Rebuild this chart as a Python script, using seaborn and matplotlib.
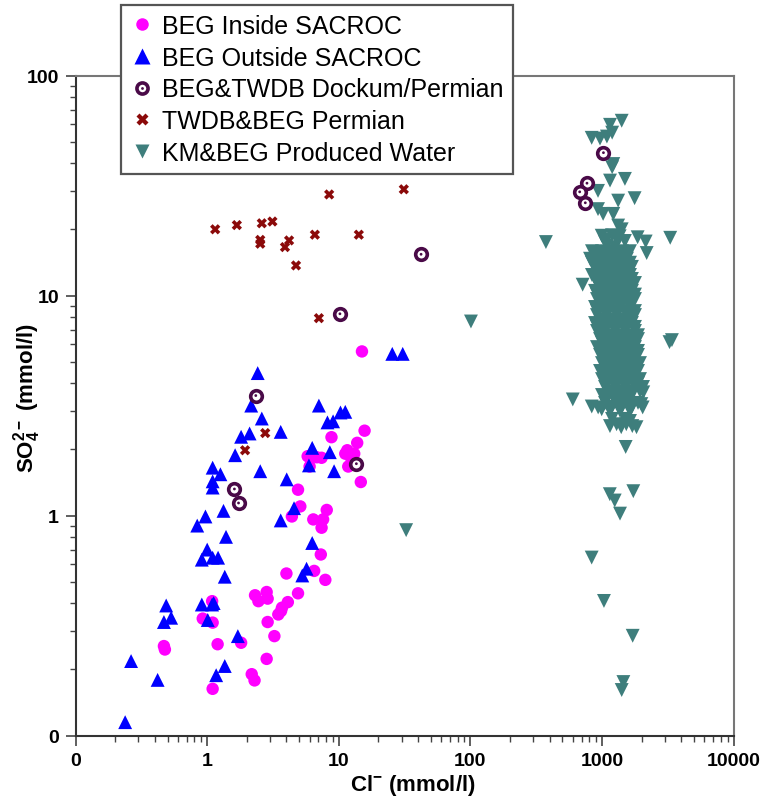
import matplotlib
matplotlib.use("Agg")
import matplotlib.pyplot as plt
import seaborn as sns
import pandas as pd
from matplotlib.lines import Line2D
from matplotlib.legend_handler import HandlerTuple
from matplotlib.ticker import LogLocator, NullFormatter

# ---------------- data (Cl- , SO4 2- in mmol/l) ----------------
inside_cl = [15.0, 15.7, 8.8, 13.8, 11.6, 11.2, 13.1, 5.8, 7.4, 6.8, 6.0, 11.8, 14.7, 4.9,
             5.1, 4.4, 8.1, 6.4, 7.6, 7.4, 7.3, 4.0, 6.5, 7.9, 4.9, 2.83, 2.31, 2.45, 2.88,
             4.1, 3.7, 3.47, 3.64, 2.88, 3.24, 2.83, 2.18, 2.29, 0.925, 1.10, 1.09, 1.20,
             1.81, 1.10, 0.469, 0.477, 12.5]
inside_so4 = [5.57, 2.43, 2.27, 2.14, 1.98, 1.91, 1.91, 1.86, 1.83, 1.84, 1.67, 1.67, 1.42, 1.31,
              1.10, 0.99, 1.06, 0.96, 0.96, 0.88, 0.665, 0.545, 0.56, 0.51, 0.443, 0.449, 0.434,
              0.408, 0.419, 0.404, 0.381, 0.355, 0.368, 0.328, 0.283, 0.223, 0.19, 0.178, 0.34,
              0.326, 0.408, 0.26, 0.264, 0.163, 0.255, 0.246, 1.80]

outside_cl = [25.5, 30.6, 2.42, 2.16, 2.60, 1.81, 2.10, 3.62, 1.63, 1.10, 1.26, 1.10, 1.10, 2.53,
              7.06, 8.2, 9.05, 10.3, 11.2, 6.28, 8.55, 5.93, 9.21, 4.02, 4.57, 3.62, 6.28, 5.69,
              5.28, 0.97, 0.84, 1.39, 1.33, 1.0, 0.91, 1.10, 1.21, 1.36, 0.91, 1.09, 1.12, 1.01,
              0.488, 0.469, 0.532, 1.71, 1.36, 1.17, 0.264, 0.42, 0.238]
outside_so4 = [5.43, 5.43, 4.44, 3.16, 2.76, 2.28, 2.36, 2.40, 1.88, 1.65, 1.54, 1.43, 1.34, 1.59,
               3.16, 2.65, 2.68, 2.94, 2.96, 2.03, 1.94, 1.69, 1.59, 1.46, 1.08, 0.95, 0.75, 0.573,
               0.534, 0.99, 0.90, 0.80, 1.05, 0.70, 0.63, 0.643, 0.643, 0.527, 0.394, 0.394, 0.40,
               0.335, 0.39, 0.328, 0.343, 0.283, 0.207, 0.188, 0.218, 0.179, 0.115]

dockum_cl = [10.2, 2.34, 1.61, 1.73, 13.6, 42.2, 1026, 769, 677, 747]
dockum_so4 = [8.26, 3.51, 1.32, 1.14, 1.72, 15.4, 44.6, 32.4, 29.6, 26.4]

permian_cl = [1.15, 1.68, 2.60, 3.13, 2.53, 2.53, 4.19, 3.90, 6.58, 14.2, 8.45, 31.2, 4.73,
              7.06, 2.76, 1.94]
permian_so4 = [20.0, 20.9, 21.3, 21.7, 17.9, 17.2, 17.8, 16.6, 18.9, 18.9, 28.8, 30.4, 13.7,
               7.89, 2.37, 1.98]

# produced water: scattered points
pw_cl = [101, 32.5, 600, 713, 375, 3300, 1866, 2149, 2186, 3400, 3260, 1514, 1147, 1250, 1730,
         1371, 835, 1035, 1711, 1454, 1412,
         1412, 1151, 1195, 1090, 835, 966, 1219, 1195, 1151, 1494, 933, 1327, 1770, 933, 1020,
         1219, 1327, 1412, 995, 1055, 1363, 1494, 1054, 1191, 1300, 1091, 1256,
         836, 935, 995, 2060, 2038, 1990, 1291, 1530, 1150, 1400, 1700, 1830, 1633]
pw_so4 = [7.62, 0.858, 3.37, 11.2, 17.5, 18.3, 18.4, 17.6, 15.6, 6.27, 6.14, 2.05, 1.25, 1.17,
          1.29, 1.02, 0.644, 0.409, 0.284, 0.175, 0.161,
          62.3, 59.7, 55.0, 52.8, 52.1, 51.7, 39.6, 38.3, 33.3, 33.9, 29.9, 27.0, 27.7, 24.7, 23.5,
          23.5, 20.8, 20.0, 18.7, 17.5, 18.6, 17.7, 18.0, 18.8, 17.9, 16.9, 16.6,
          3.13, 3.10, 3.04, 3.63, 3.10, 3.21, 2.60, 2.60, 2.55, 2.52, 2.55, 2.52, 2.69]

# produced water: dense column around 1000-2000 mmol/l Cl-
pw_core_cl = [839, 1000, 1191, 1419, 1633,
              811, 916, 1091, 1300, 1549,
              885, 1054, 1256, 1496, 1690,
              839, 966, 1151, 1371, 1633,
              916, 1091, 1300, 1549, 1782,
              885, 1000, 1191, 1419, 1690,
              916, 1054, 1256, 1496, 1782,
              885, 1000, 1151, 1371, 1633,
              916, 1091, 1300, 1549, 1782,
              885, 1000, 1191, 1419, 1690,
              916, 1054, 1256, 1496, 1782,
              966, 1091, 1300, 1549, 1879,
              916, 1054, 1256, 1496, 1782,
              966, 1151, 1371, 1633, 1879,
              1000, 1191, 1419, 1690, 1945,
              966, 1151, 1371, 1633, 1879,
              1000, 1191, 1419, 1690, 1945,
              1054, 1256, 1496, 1782, 2051,
              1000, 1191, 1419, 1690,
              1054, 1300, 1549, 1879,
              1151, 1371, 1633,
              1191, 1496,
              885, 1091, 1300, 1549,
              839, 966, 1151, 1371, 1633,
              916, 1091, 1300, 1549,
              885, 1000, 1191, 1419, 1690,
              966, 1151, 1371, 1633,
              916, 1091, 1300, 1549, 1782,
              966, 1151, 1371, 1633,
              916, 1054, 1256, 1496, 1782,
              966, 1151, 1371, 1633,
              916, 1091, 1300, 1549, 1782,
              966, 1151, 1371, 1633, 1879,
              1000, 1191, 1419, 1690,
              966, 1151, 1371, 1633, 1879,
              1054, 1256, 1496, 1782,
              1054, 1256, 1496, 1782,
              1054, 1256, 1496, 1782,
              1091, 1300, 1549, 1879,
              1151, 1371, 1633, 1945,
              1091, 1300, 1549,
              1191, 1419, 1690]
pw_core_so4 = [15.9, 15.9, 15.9, 15.9, 15.9,
               14.7, 14.7, 14.7, 14.7, 14.7,
               13.5, 13.5, 13.5, 13.5, 13.5,
               12.4, 12.4, 12.4, 12.4, 12.4,
               11.4, 11.4, 11.4, 11.4, 11.4,
               10.5, 10.5, 10.5, 10.5, 10.5,
               9.64, 9.64, 9.64, 9.64, 9.64,
               8.87, 8.87, 8.87, 8.87, 8.87,
               8.15, 8.15, 8.15, 8.15, 8.15,
               7.50, 7.50, 7.50, 7.50, 7.50,
               6.90, 6.90, 6.90, 6.90, 6.90,
               6.34, 6.34, 6.34, 6.34, 6.34,
               5.83, 5.83, 5.83, 5.83, 5.83,
               5.37, 5.37, 5.37, 5.37, 5.37,
               4.93, 4.93, 4.93, 4.93, 4.93,
               4.54, 4.54, 4.54, 4.54, 4.54,
               4.17, 4.17, 4.17, 4.17, 4.17,
               3.84, 3.84, 3.84, 3.84, 3.84,
               3.53, 3.53, 3.53, 3.53,
               3.25, 3.25, 3.25, 3.25,
               2.99, 2.99, 2.99,
               2.75, 2.75,
               15.3, 15.3, 15.3, 15.3,
               14.1, 14.1, 14.1, 14.1, 14.1,
               12.9, 12.9, 12.9, 12.9,
               11.9, 11.9, 11.9, 11.9, 11.9,
               10.9, 10.9, 10.9, 10.9,
               10.1, 10.1, 10.1, 10.1, 10.1,
               9.25, 9.25, 9.25, 9.25,
               8.5, 8.5, 8.5, 8.5, 8.5,
               7.8, 7.8, 7.8, 7.8,
               7.2, 7.2, 7.2, 7.2, 7.2,
               6.6, 6.6, 6.6, 6.6, 6.6,
               6.1, 6.1, 6.1, 6.1,
               5.6, 5.6, 5.6, 5.6, 5.6,
               5.15, 5.15, 5.15, 5.15,
               4.73, 4.73, 4.73, 4.73,
               4.35, 4.35, 4.35, 4.35,
               4.0, 4.0, 4.0, 4.0,
               3.68, 3.68, 3.68, 3.68,
               3.39, 3.39, 3.39,
               3.12, 3.12, 3.12]

legend_labels = ["BEG Inside SACROC", "BEG Outside SACROC", "BEG&TWDB Dockum/Permian",
                 "TWDB&BEG Permian", "KM&BEG Produced Water"]
x_ticks = [0.1, 1, 10, 100, 1000, 10000]
x_ticklabels = ["0", "1", "10", "100", "1000", "10000"]
y_ticks = [0.1, 1, 10, 100]
y_ticklabels = ["0", "1", "10", "100"]

# ---------------- style ----------------
sns.set_theme(style="white")
plt.rcParams["font.family"] = ["Liberation Sans", "DejaVu Sans"]
plt.rcParams["text.color"] = "black"
plt.rcParams["axes.labelcolor"] = "black"
plt.rcParams["mathtext.fontset"] = "custom"
plt.rcParams["mathtext.rm"] = "Liberation Sans:bold"
plt.rcParams["mathtext.it"] = "Liberation Sans:bold"
plt.rcParams["mathtext.bf"] = "Liberation Sans:bold"

C_IN = "#FF00FF"
C_OUT = "#0000FF"
C_DOCK = "#4A0A48"
C_PERM = "#8B0A0A"
C_PW = "#3E7E7C"

fig = plt.figure(figsize=(7.73, 8.03), dpi=100)
ax = fig.add_axes([0.0978, 0.0828, 0.8512, 0.8219])

pw_all = pd.DataFrame({"cl": pw_cl + pw_core_cl, "so4": pw_so4 + pw_core_so4})
sns.scatterplot(data=pw_all, x="cl", y="so4", marker="v", s=100, color=C_PW,
                edgecolor="none", linewidth=0, ax=ax, zorder=2)
sns.scatterplot(x=inside_cl, y=inside_so4, marker="o", s=80, color=C_IN,
                edgecolor="none", linewidth=0, ax=ax, zorder=3)
sns.scatterplot(x=outside_cl, y=outside_so4, marker="^", s=100, color=C_OUT,
                edgecolor="none", linewidth=0, ax=ax, zorder=4)
sns.scatterplot(x=permian_cl, y=permian_so4, marker="X", s=55, color=C_PERM,
                edgecolor="none", linewidth=0, ax=ax, zorder=5)
sns.scatterplot(x=dockum_cl, y=dockum_so4, marker="o", s=70, color="white",
                edgecolor=C_DOCK, linewidth=2.6, ax=ax, zorder=6)
sns.scatterplot(x=dockum_cl, y=dockum_so4, marker="o", s=4, color=C_DOCK,
                edgecolor="none", linewidth=0, ax=ax, zorder=7)

ax.set_xscale("log")
ax.set_yscale("log")
ax.set_xlim(0.1, 10000)
ax.set_ylim(0.1, 100)
ax.set_xticks(x_ticks, labels=x_ticklabels, fontsize=14, fontweight="bold")
ax.set_yticks(y_ticks, labels=y_ticklabels, fontsize=14, fontweight="bold")
ax.xaxis.set_minor_locator(LogLocator(base=10, subs=range(2, 10), numticks=20))
ax.yaxis.set_minor_locator(LogLocator(base=10, subs=range(2, 10), numticks=20))
ax.xaxis.set_minor_formatter(NullFormatter())
ax.yaxis.set_minor_formatter(NullFormatter())
ax.tick_params(which="major", direction="out", length=7, width=1.2, color="#444444",
               bottom=True, left=True, labelcolor="black", pad=5)
ax.tick_params(which="minor", direction="out", length=4, width=1.0, color="#444444",
               bottom=True, left=True)

for side in ["left", "bottom"]:
    ax.spines[side].set_color("#333333")
    ax.spines[side].set_linewidth(1.5)
for side in ["top", "right"]:
    ax.spines[side].set_color("#777777")
    ax.spines[side].set_linewidth(1.5)

ax.set_xlabel(r"Cl$^{-}$ (mmol/l)", fontsize=16, fontweight="bold", color="black")
ax.set_ylabel(r"SO$_{4}^{2-}$ (mmol/l)", fontsize=16, fontweight="bold", color="black")
ax.xaxis.set_label_coords(0.513, -0.056)
ax.yaxis.set_label_coords(-0.05, 0.513)

h_in = Line2D([], [], ls="none", marker="o", ms=9, mfc=C_IN, mec="none")
h_out = Line2D([], [], ls="none", marker="^", ms=11, mfc=C_OUT, mec="none")
h_dock = (Line2D([], [], ls="none", marker="o", ms=8, mfc="white", mec=C_DOCK, mew=2.6),
          Line2D([], [], ls="none", marker="o", ms=2, mfc=C_DOCK, mec="none"))
h_perm = Line2D([], [], ls="none", marker="X", ms=8, mfc=C_PERM, mec="none")
h_pw = Line2D([], [], ls="none", marker="v", ms=10, mfc=C_PW, mec="none")

leg = fig.legend([h_in, h_out, h_dock, h_perm, h_pw], legend_labels,
                 loc="upper left", bbox_to_anchor=(121 / 773, 1 - 6 / 803),
                 bbox_transform=fig.transFigure, fontsize=18, frameon=True, fancybox=False,
                 edgecolor="#555555", framealpha=1, facecolor="white", borderpad=0.35,
                 handlelength=1.0, handletextpad=0.3, labelspacing=0.31, borderaxespad=0,
                 handler_map={tuple: HandlerTuple(ndivide=1, pad=0)})
leg.get_frame().set_linewidth(1.6)
for t in leg.get_texts():
    t.set_color("black")
leg.set_zorder(10)

fig.savefig("out.png", dpi=100)
